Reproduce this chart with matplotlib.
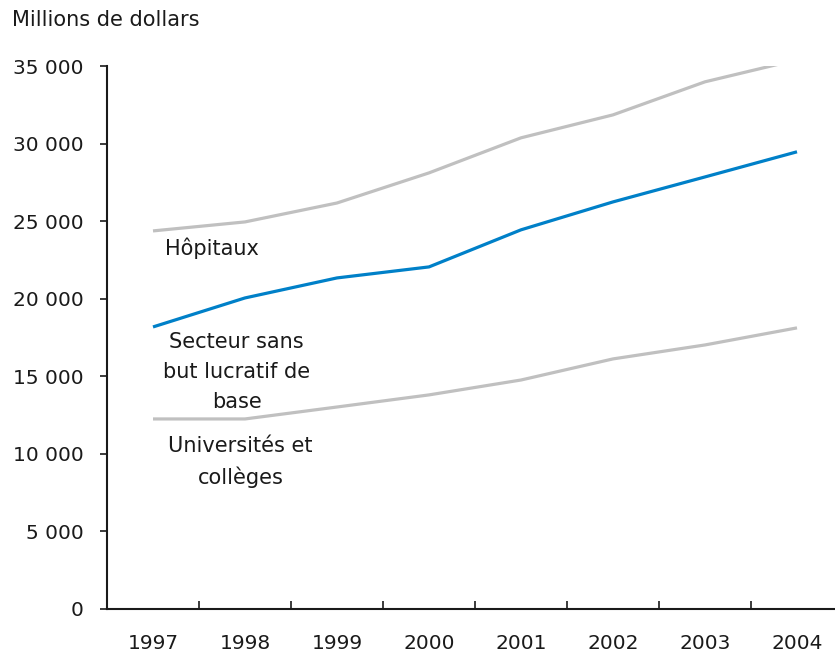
import matplotlib
matplotlib.use("Agg")
import matplotlib.pyplot as plt
from matplotlib.ticker import FuncFormatter

years = ["1997", "1998", "1999", "2000", "2001", "2002", "2003", "2004"]
hopitaux = [24370, 24950, 26170, 28110, 30370, 31850, 33980, 35400]
secteur = [18180, 20050, 21340, 22050, 24440, 26240, 27850, 29470]
universites = [12250, 12250, 13020, 13800, 14760, 16120, 17020, 18120]

plt.rcParams['font.family'] = ['DejaVu Sans']

fig = plt.figure(figsize=(8.35, 6.56), dpi=100)
ax = fig.add_axes([107/835, 47/656, 736/835, 543/656])

x = list(range(len(years)))
gray = "#c0c0c0"
blue = "#0080c8"
ax.plot(x, hopitaux, color=gray, lw=2.3, solid_capstyle='butt')
ax.plot(x, universites, color=gray, lw=2.3, solid_capstyle='butt')
ax.plot(x, secteur, color=blue, lw=2.3, solid_capstyle='butt')

ax.set_xlim(-0.5, 7.5)
ax.set_ylim(0, 35000)

fs = 15
tfs = 14.5
tc = '#1a1a1a'
ax.set_yticks(range(0, 35001, 5000))
ax.yaxis.set_major_formatter(FuncFormatter(lambda v, p: f"{int(v):,}".replace(",", " ")))
ax.tick_params(axis='y', direction='out', length=5, width=1.2, labelsize=tfs, pad=12, colors=tc)

ax.set_xticks(x)
ax.set_xticklabels(years)
ax.tick_params(axis='x', which='major', length=0, labelsize=tfs, pad=18, colors=tc)
ax.set_xticks([i + 0.5 for i in range(len(years) - 1)], minor=True)
ax.tick_params(axis='x', which='minor', direction='in', length=6, width=1.2, color=tc)

for s in ['top', 'right']:
    ax.spines[s].set_visible(False)
for s in ['left', 'bottom']:
    ax.spines[s].set_linewidth(1.5)
    ax.spines[s].set_color(tc)

ax.text(0.13, 23275, "Hôpitaux", fontsize=fs, ha='left', va='center', color=tc)
ax.text(0.91, 15280, "Secteur sans\nbut lucratif de\nbase", fontsize=fs, ha='center', va='center',
        color=tc, linespacing=1.6)
ax.text(0.95, 9480, "Universités et\ncollèges", fontsize=fs, ha='center', va='center',
        color=tc, linespacing=1.6)

fig.text(12/835, 1 - 20/656, "Millions de dollars", fontsize=fs, ha='left', va='center', color=tc)

fig.savefig("out.png", dpi=100)
